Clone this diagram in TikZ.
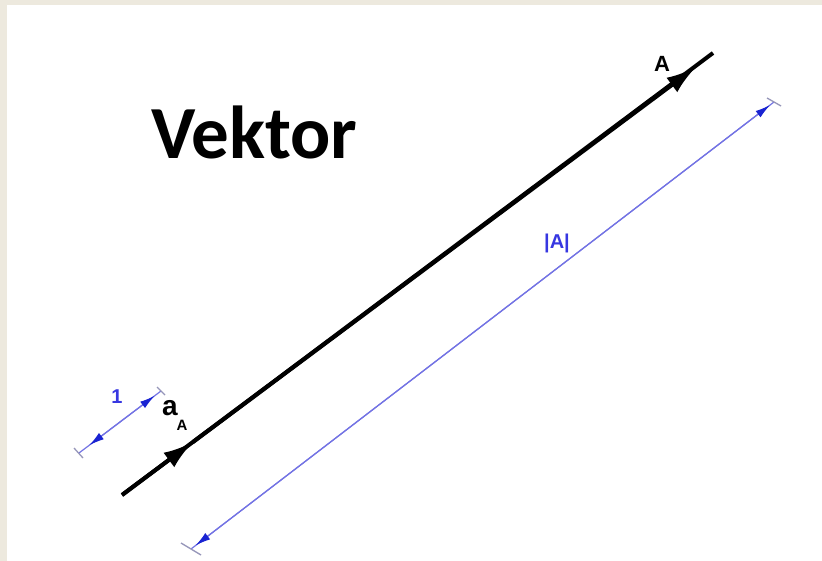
\documentclass[tikz,border=0pt]{standalone}
\usepackage{fontspec}
\newfontfamily\calfont{Carlito}
\newfontfamily\arialfont{Liberation Sans}
\usetikzlibrary{arrows.meta,positioning,calc}
\definecolor{paper}{RGB}{237,233,222}
\definecolor{dimblue}{RGB}{115,115,228}
\definecolor{tipblue}{RGB}{25,35,210}
\definecolor{labblue}{RGB}{55,55,225}
\definecolor{tickgray}{RGB}{150,150,185}

\begin{document}
\begin{tikzpicture}[x=1pt, y=-1pt, >=Latex,
   vec/.style={line width=4pt, black},
   vectip/.style={line width=4pt, -{Latex[length=30pt,width=18pt]}},
   dim/.style={draw=dimblue, line width=1.2pt},
   dimtip/.style={draw=dimblue, line width=1.2pt,
                  {Latex[length=15pt,width=8pt,color=tipblue]}-{Latex[length=15pt,width=8pt,color=tipblue]}},
   tick/.style={draw=tickgray, line width=1.3pt},
   lbl/.style={font=\arialfont\bfseries, inner sep=0pt}]
  % page
  \fill[paper] (0,0) rectangle (822,561);
  \fill[white] (7,5) rectangle (822,561);
  \useasboundingbox (0,0) rectangle (822,561);

  % title
  \node[lbl, font=\calfont\bfseries\fontsize{75}{75}\selectfont, anchor=base west] (title) at (151,159) {Vektor};

  % the vector A
  \coordinate (vs) at (122,495);
  \coordinate (vm) at (193,442);
  \coordinate (vt) at (696,67);
  \coordinate (ve) at (713,53);
  \draw[vec] (vs) -- (ve);
  \draw[vectip] (vs) -- (vm);
  \draw[vectip] (vm) -- (vt);
  \node[lbl, font=\arialfont\bfseries\fontsize{22}{22}\selectfont] (labA) at (662,64) {A};
  \node[lbl, font=\arialfont\bfseries\fontsize{28}{28}\selectfont] (laba) at (170,408) {a};
  \node[lbl, font=\arialfont\bfseries\fontsize{15}{15}\selectfont] (labsub) at (182,425) {A};

  % magnitude |A|
  \coordinate (ds) at (191,549);
  \coordinate (de) at (774,102);
  \draw[dim] (ds) -- (de);
  \draw[dimtip, shorten <=6pt, shorten >=5pt] (ds) -- (de);
  \draw[tick] ($(ds)+(-10,-6)$) -- ($(ds)+(10,6)$);
  \draw[tick] ($(de)+(-7,-4)$) -- ($(de)+(7,4)$);
  \node[lbl, text=labblue, font=\arialfont\bfseries\fontsize{20}{20}\selectfont] (labmag) at (557,243) {|A|};

  % unit length 1
  \coordinate (us) at (79,453);
  \coordinate (ue) at (161,391);
  \draw[dim] (us) -- (ue);
  \draw[dimtip, shorten <=13pt, shorten >=8pt] (us) -- (ue);
  \draw[tick] ($(us)+(-5,-5)$) -- ($(us)+(4,5)$);
  \draw[tick] ($(ue)+(-4,-4)$) -- ($(ue)+(4,4)$);
  \node[lbl, text=labblue, font=\arialfont\bfseries\fontsize{20}{20}\selectfont] (labone) at (117,397) {1};
\end{tikzpicture}
\end{document}
